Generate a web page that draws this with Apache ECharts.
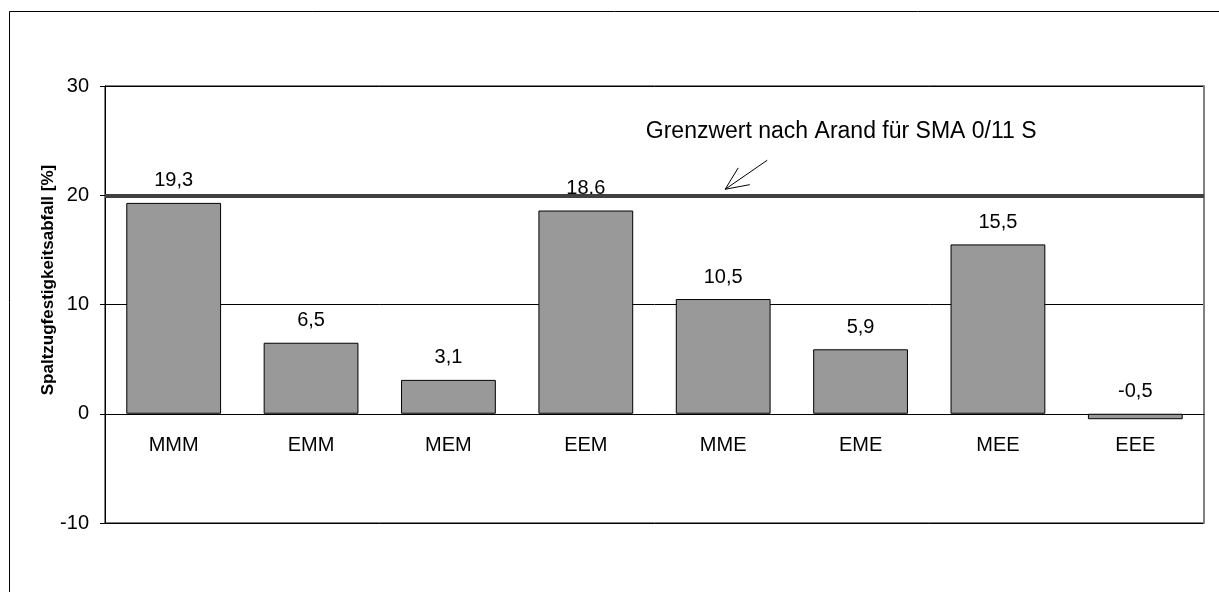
<!DOCTYPE html>
<html>
<head>
<meta charset="utf-8">
<script src="https://cdn.jsdelivr.net/npm/echarts@6/dist/echarts.min.js"></script>
<style>
  html, body { margin: 0; padding: 0; background: #fff; }
  #chart { width: 1219px; height: 592px; }
</style>
</head>
<body>
<div id="chart"></div>
<script>
// Reihenfolge der Varianten (Kategorien)
const categories = ['MMM', 'EMM', 'MEM', 'EEM', 'MME', 'EME', 'MEE', 'EEE'];
// Spaltzugfestigkeitsabfall je Variante in %
const abfall = [19.3, 6.5, 3.1, 18.6, 10.5, 5.9, 15.5, -0.5];
// Achsbereich der y-Achse
const yMin = -10, yMax = 30, yStep = 10;
// Grenzwert nach Arand
const grenzwert = 20;
const grenzwertText = 'Grenzwert nach Arand für SMA 0/11 S';
const yTitle = 'Spaltzugfestigkeitsabfall [%]';

const FONT = '"Liberation Sans", Arial, sans-serif';
const chart = echarts.init(document.getElementById('chart'), null, { renderer: 'canvas' });

const fmt = v => String(v).replace('.', ',');

chart.setOption({
  animation: false,
  backgroundColor: '#fff',
  textStyle: { fontFamily: FONT, color: '#000' },
  grid: {
    left: 105, top: 86, right: 15, bottom: 69,
    show: true, borderColor: '#000', borderWidth: 1, backgroundColor: 'transparent'
  },
  xAxis: {
    type: 'category',
    data: categories,
    axisLine: { onZero: false, lineStyle: { color: '#000', width: 1 } },
    axisTick: { show: false },
    axisLabel: { margin: 22, fontSize: 20, color: '#000', fontFamily: FONT },
    splitLine: { show: false }
  },
  yAxis: [{
    type: 'value',
    min: yMin, max: yMax, interval: yStep,
    axisLine: { show: true, onZero: false, lineStyle: { color: '#000', width: 1 } },
    axisTick: { show: true, inside: false, length: 5, lineStyle: { color: '#000' } },
    axisLabel: { margin: 16, fontSize: 20, color: '#000', fontFamily: FONT },
    splitLine: { show: true, lineStyle: { color: '#000', width: 1 } }
  }, {
    type: 'value',
    position: 'right',
    min: yMin, max: yMax, interval: yStep,
    axisLine: { show: true, onZero: false, lineStyle: { color: '#808080', width: 2 } },
    axisTick: { show: false },
    axisLabel: { show: false },
    splitLine: { show: false }
  }],
  series: [{
    type: 'bar',
    data: abfall,
    yAxisIndex: 0,
    barWidth: '69%',
    itemStyle: { color: '#999999', borderColor: '#000', borderWidth: 1 },
    label: {
      show: true, position: 'top', distance: 12,
      fontSize: 20, color: '#000', fontFamily: FONT,
      formatter: p => fmt(p.value)
    },
    markLine: {
      silent: true,
      symbol: ['none', 'none'],
      label: { show: false },
      lineStyle: { color: '#404040', width: 4, type: 'solid' },
      data: [{ yAxis: grenzwert }]
    },
    z: 2
  }]
});

// Kategorienachse auf die Nulllinie verschieben (Beschriftung folgt mit)
const zeroY = chart.convertToPixel({ yAxisIndex: 0 }, 0);
const bottomY = chart.convertToPixel({ yAxisIndex: 0 }, yMin);
chart.setOption({ xAxis: { offset: -(bottomY - zeroY) } });

// Beschriftung des Grenzwerts mit Pfeil, verankert an der Grenzwertlinie über MME
const tip = chart.convertToPixel({ gridIndex: 0 }, ['MME', grenzwert]);
const tx = tip[0] + 2, ty = tip[1] - 6;
const tail = [tx + 42, ty - 29];
const ang = Math.atan2(tail[1] - ty, tail[0] - tx);
const headLen = 25, spread = 0.42;
const barb1 = [tx + headLen * Math.cos(ang - spread), ty + headLen * Math.sin(ang - spread)];
const barb2 = [tx + headLen * Math.cos(ang + spread), ty + headLen * Math.sin(ang + spread)];

chart.setOption({
  graphic: [
    // Außenrahmen des Diagramms
    {
      type: 'rect', left: 7, top: 9, z: 0, silent: true,
      shape: { width: 1240, height: 620 },
      style: { fill: 'none', stroke: '#000', lineWidth: 1 }
    },
    // Achsentitel
    {
      type: 'text', x: 48, y: 280, rotation: Math.PI / 2, silent: true, z: 10,
      style: {
        text: yTitle, fontFamily: FONT, fontSize: 17, fontWeight: 'bold', fill: '#000',
        align: 'center', verticalAlign: 'middle'
      }
    },
    // Grenzwert-Beschriftung
    {
      type: 'text', x: tip[0] + 118, y: tip[1] - 64, silent: true, z: 10,
      style: {
        text: grenzwertText, fontFamily: FONT, fontSize: 23, fill: '#000',
        align: 'center', verticalAlign: 'middle'
      }
    },
    // Pfeil
    {
      type: 'polyline', silent: true, z: 10,
      shape: { points: [tail, [tx, ty]] },
      style: { stroke: '#000', lineWidth: 1, fill: 'none' }
    },
    {
      type: 'polyline', silent: true, z: 10,
      shape: { points: [barb1, [tx, ty], barb2] },
      style: { stroke: '#000', lineWidth: 1, fill: 'none' }
    }
  ]
});
</script>
</body>
</html>
